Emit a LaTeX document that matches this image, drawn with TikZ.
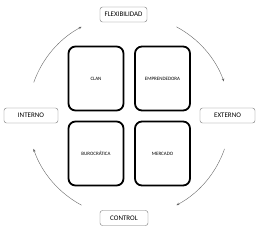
\documentclass[tikz,border=0pt]{standalone}
\usepackage{fontspec}
\setmainfont{Carlito}
\usetikzlibrary{arrows.meta}
\begin{document}
\begin{tikzpicture}[x=1pt,y=-1pt,
  quad/.style={draw=black,line width=1.8pt,rounded corners=7pt,minimum width=55pt,minimum height=64pt,font=\fontsize{5}{6}\selectfont,inner sep=0pt},
  lab/.style={draw=black!55,line width=0.4pt,rounded corners=2.5pt,minimum height=15pt,font=\fontsize{7}{8}\selectfont,inner sep=2pt},
  arcline/.style={draw=black!60,line width=0.4pt,-{Stealth[length=3pt,width=2.5pt]}}]
\useasboundingbox (0,0) rectangle (259,234);
\node[quad] (clan) at (96,78.5) {CLAN};
\node[quad] (empr) at (162.5,78.5) {EMPRENDEDORA};
\node[quad] (buro) at (96,153.5) {BUROCRÁTICA};
\node[quad] (merc) at (162.5,153.5) {MERCADO};
\node[lab,minimum width=47pt] (flex) at (123.5,14.5) {FLEXIBILIDAD};
\node[lab,minimum width=54pt] (int) at (31,115.5) {INTERNO};
\node[lab,minimum width=55pt] (ext) at (227.5,115.5) {EXTERNO};
\node[lab,minimum width=48pt] (ctrl) at (124,218) {CONTROL};
\coordinate (c) at (129,116);
\draw[arcline] (c) ++(-160.6:101) arc[start angle=-160.6,end angle=-118,radius=101];
\draw[arcline] (c) ++(-62:101) arc[start angle=-62,end angle=-20,radius=101];
\draw[arcline] (c) ++(19:101) arc[start angle=19,end angle=62,radius=101];
\draw[arcline] (c) ++(118:101) arc[start angle=118,end angle=161,radius=101];
\end{tikzpicture}
\end{document}
